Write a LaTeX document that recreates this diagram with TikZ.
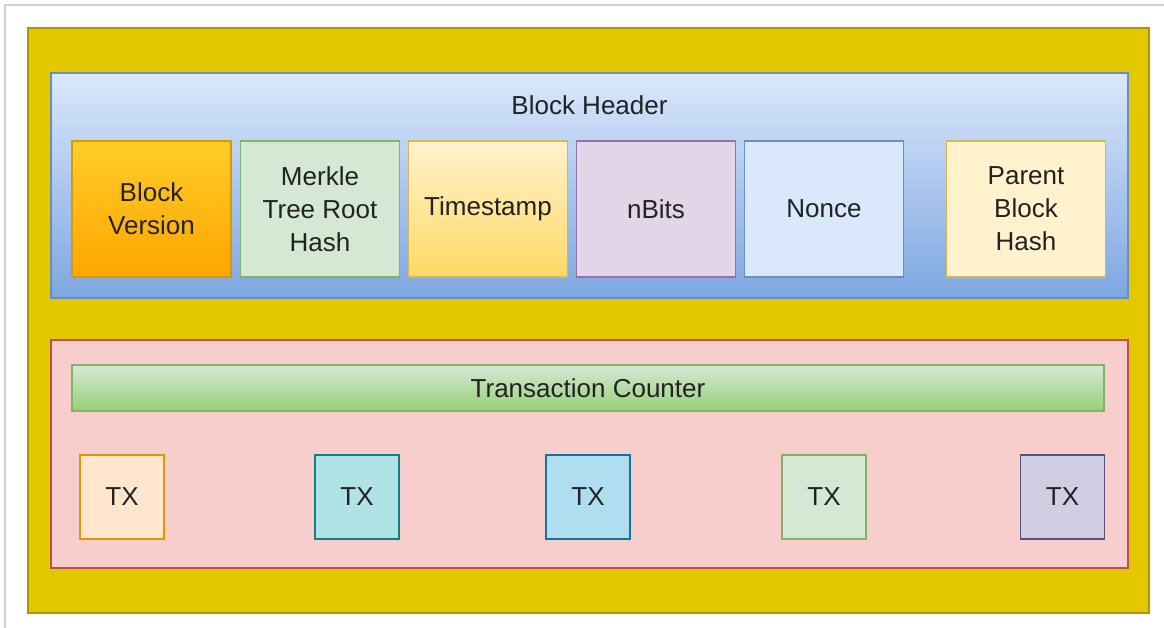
\documentclass[tikz,border=0pt]{standalone}
\usepackage{fontspec}
\setmainfont{Liberation Sans}
\usepackage{tikz}
\usetikzlibrary{positioning}
\definecolor{framegray}{HTML}{D0D0D0}
\definecolor{blockfill}{HTML}{E3C800}
\definecolor{blockline}{HTML}{B09500}
\definecolor{headtop}{HTML}{DAE8FC}
\definecolor{headbot}{HTML}{7EA6E0}
\definecolor{headline}{HTML}{6C8EBF}
\definecolor{orgtop}{HTML}{FFCD28}
\definecolor{orgbot}{HTML}{FFA500}
\definecolor{orgline}{HTML}{D79B00}
\definecolor{grnfill}{HTML}{D5E8D4}
\definecolor{grnbot}{HTML}{97D077}
\definecolor{grnline}{HTML}{82B366}
\definecolor{ylwfill}{HTML}{FFF2CC}
\definecolor{ylwbot}{HTML}{FFD966}
\definecolor{ylwline}{HTML}{D6B656}
\definecolor{purfill}{HTML}{E1D5E7}
\definecolor{purline}{HTML}{9673A6}
\definecolor{pinkfill}{HTML}{F8CECC}
\definecolor{pinkline}{HTML}{B85450}
\definecolor{peachfill}{HTML}{FFE6CC}
\definecolor{tealfill}{HTML}{B0E3E6}
\definecolor{tealline}{HTML}{0E8088}
\definecolor{skyfill}{HTML}{B1DDF0}
\definecolor{skyline}{HTML}{10739E}
\definecolor{lilacfill}{HTML}{D0CEE2}
\definecolor{lilacline}{HTML}{56517E}
\definecolor{txtcol}{HTML}{222222}
\newcommand{\boxfont}{\fontsize{14.8}{18.7}\selectfont}

\begin{document}
\begin{tikzpicture}[x=0.02cm,y=-0.02cm,
      field/.style={draw,line width=1pt,minimum width=3.18cm,minimum height=2.72cm,align=center,font=\boxfont,text=txtcol,inner sep=0pt},
      txbox/.style={draw,line width=1pt,minimum width=1.68cm,minimum height=1.68cm,font=\boxfont,text=txtcol,inner sep=0pt},
      part/.style={draw,line width=1pt,minimum width=21.54cm,inner sep=0pt}
    ]
      \useasboundingbox (0,0) rectangle (1164,628);
      \draw[framegray,line width=0.6pt] (5,628) -- (5,5) -- (1164,5);
      \node[draw=blockline,fill=blockfill,line width=1pt,minimum width=22.42cm,minimum height=11.7cm] (block) at (588.5,320.5) {};
      % header
      \node[part,draw=headline,top color=headtop,bottom color=headbot,minimum height=4.5cm] (header) at (589.5,185.5) {};
      \node[font=\boxfont,text=txtcol] (htitle) at (589.5,105) {Block Header};
      \node[field,draw=orgline,top color=orgtop,bottom color=orgbot] (version) at (151.5,209) {Block\\Version};
      \node[field,draw=grnline,fill=grnfill] (merkle) at (320,209) {Merkle\\Tree Root\\Hash};
      \node[field,draw=ylwline,top color=ylwfill,bottom color=ylwbot] (time) at (488,209) {Timestamp};
      \node[field,draw=purline,fill=purfill] (nbits) at (656,209) {nBits};
      \node[field,draw=headline,fill=headtop] (nonce) at (824,209) {Nonce};
      \node[field,draw=ylwline,fill=ylwfill] (parent) at (1026,209) {Parent\\Block\\Hash};
      % transactions
      \node[part,draw=pinkline,fill=pinkfill,minimum height=4.56cm] (body) at (589.5,454) {};
      \node[draw=grnline,line width=1pt,top color=grnfill,bottom color=grnbot,minimum width=20.64cm,minimum height=0.92cm,font=\boxfont,text=txtcol,inner sep=0pt] (counter) at (588,388) {Transaction Counter};
      \node[txbox,draw=orgline,fill=peachfill] (tx1) at (122,497) {TX};
      \node[txbox,draw=tealline,fill=tealfill] (tx2) at (357,497) {TX};
      \node[txbox,draw=skyline,fill=skyfill] (tx3) at (588,497) {TX};
      \node[txbox,draw=grnline,fill=grnfill] (tx4) at (824,497) {TX};
      \node[txbox,draw=lilacline,fill=lilacfill] (tx5) at (1062.5,497) {TX};
    \end{tikzpicture}
\end{document}
